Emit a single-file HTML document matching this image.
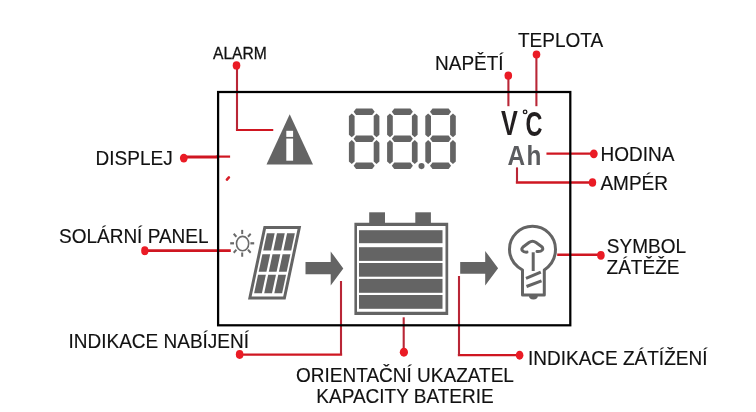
<!DOCTYPE html>
<html><head><meta charset="utf-8">
<style>
html,body{margin:0;padding:0;background:#fff;width:756px;height:412px;overflow:hidden}
svg{display:block;will-change:transform}
text{font-family:"Liberation Sans",sans-serif}
</style></head><body>
<svg width="756" height="412" viewBox="0 0 756 412">



<!-- labels -->
<g fill="#111" font-size="19" stroke="#111" stroke-width="0.15">
  <text x="213" y="59.3" font-size="17" transform="translate(213 0) scale(0.92 1) translate(-213 0)" stroke-width="0.3">ALARM</text>
  <text transform="translate(0 165.0) scale(1 1.02) translate(0 -165.0)" x="95.6" y="165.0">DISPLEJ</text>
  <text transform="translate(0 70.3) scale(1 1.02) translate(0 -70.3)" x="435" y="70.3">NAPĚTÍ</text>
  <text transform="translate(0 46.6) scale(1 1.02) translate(0 -46.6)" x="518" y="46.6">TEPLOTA</text>
  <text transform="translate(0 160.6) scale(1 1.02) translate(0 -160.6)" x="600.6" y="160.6">HODINA</text>
  <text transform="translate(0 190.4) scale(1 1.02) translate(0 -190.4)" x="600.4" y="190.4">AMPÉR</text>
  <text transform="translate(0 242.7) scale(1 1.02) translate(0 -242.7)" x="59" y="242.7">SOLÁRNÍ PANEL</text>
  <text transform="translate(0 252.8) scale(1 1.02) translate(0 -252.8)" x="606.8" y="252.8">SYMBOL</text>
  <text transform="translate(0 274.1) scale(1 1.02) translate(0 -274.1)" x="606.6" y="274.1">ZÁTĚŽE</text>
  <text transform="translate(0 348.0) scale(1 1.02) translate(0 -348.0)" x="68.5" y="348.0">INDIKACE NABÍJENÍ</text>
  <text transform="translate(0 382.4) scale(1 1.02) translate(0 -382.4)" x="405" y="382.4" text-anchor="middle">ORIENTAČNÍ UKAZATEL</text>
  <text transform="translate(0 403.1) scale(1 1.02) translate(0 -403.1)" x="405" y="403.1" text-anchor="middle">KAPACITY BATERIE</text>
  <text transform="translate(0 365.0) scale(1 1.02) translate(0 -365.0)" x="528" y="365.0">INDIKACE ZÁTÍŽENÍ</text>
</g>

<!-- red connectors -->
<g stroke="#cf1621" stroke-width="2.3" fill="none" stroke-linecap="square">
  <line x1="237" y1="130" x2="272.2" y2="130" stroke-width="2.1"/>
  <line x1="184" y1="157" x2="217" y2="157" stroke-width="3.2"/>
  <line x1="217" y1="156.6" x2="229" y2="156.6" stroke-width="2.2"/>
  <line x1="547.6" y1="153.6" x2="594" y2="153.6"/>
  <line x1="517" y1="182.5" x2="593" y2="182.5"/>
  <line x1="145" y1="250.6" x2="229.5" y2="250.6" stroke-width="2.6"/>
  <line x1="558.5" y1="254.8" x2="600.6" y2="254.8" stroke-width="2.6"/>
  <line x1="239.5" y1="354.6" x2="341" y2="354.6"/>
  <line x1="518.6" y1="355.1" x2="459" y2="355.1"/>
</g>
<g stroke="#b92636" stroke-width="2.1" fill="none">
  <line x1="237" y1="66" x2="237" y2="130"/>
  <line x1="508.4" y1="76" x2="508.4" y2="106.2"/>
  <line x1="536.4" y1="55" x2="536.4" y2="106.2"/>
  <line x1="517" y1="167.4" x2="517" y2="182.5"/>
  <line x1="341" y1="354.6" x2="341" y2="281"/>
  <line x1="403.7" y1="317.3" x2="403.7" y2="351.6"/>
  <line x1="459" y1="355.1" x2="459" y2="276"/>
</g>
<line x1="226.9" y1="179.6" x2="228.9" y2="177.4" stroke="#d8202a" stroke-width="2.6" stroke-linecap="round"/>
<g fill="#ea1b25">
  <ellipse cx="236.5" cy="65.4" rx="3.8" ry="4.2"/>
  <ellipse cx="183.8" cy="158.1" rx="3.9" ry="4.4"/>
  <ellipse cx="508.3" cy="75.7" rx="3.8" ry="4.1"/>
  <ellipse cx="536.5" cy="54.5" rx="3.8" ry="4"/>
  <ellipse cx="593.8" cy="153.8" rx="3.9" ry="4.4"/>
  <ellipse cx="592.5" cy="182.5" rx="3.7" ry="4.35"/>
  <ellipse cx="144.8" cy="250.7" rx="3.65" ry="4.45"/>
  <ellipse cx="600.9" cy="255.3" rx="3.8" ry="4.4"/>
  <ellipse cx="239.65" cy="354.5" rx="3.8" ry="4.4"/>
  <ellipse cx="403.9" cy="352.2" rx="4.1" ry="4.45"/>
  <ellipse cx="519.6" cy="355.2" rx="3.8" ry="4.45"/>
</g>

<!-- frame -->
<rect x="218.1" y="92" width="352.2" height="233.3" fill="none" stroke="#000" stroke-width="2.25"/>

<!-- alarm triangle -->
<polygon points="289.7,114.3 313,164.5 266.5,164.5" fill="#646464"/>
<rect x="286.3" y="130.8" width="6.8" height="6.1" fill="#fff"/>
<rect x="286.3" y="138.6" width="6.8" height="22.1" fill="#fff"/>

<!-- 7 seg -->
<g fill="#646464">
  <polygon points="353.6,111.8 356.1,108.6 372.2,108.6 374.7,111.8 372.2,115 356.1,115"/>
  <polygon points="351.75,113.4 354.6,116 354.6,134.7 351.75,137.3 348.9,134.7 348.9,116"/>
  <polygon points="376.55,113.4 379.4,116 379.4,134.7 376.55,137.3 373.7,134.7 373.7,116"/>
  <polygon points="353.6,138.75 356.1,135.55 372.2,135.55 374.7,138.75 372.2,141.95 356.1,141.95"/>
  <polygon points="351.75,140.1 354.6,142.7 354.6,161.4 351.75,164 348.9,161.4 348.9,142.7"/>
  <polygon points="376.55,140.1 379.4,142.7 379.4,161.4 376.55,164 373.7,161.4 373.7,142.7"/>
  <polygon points="353.6,165.8 356.1,162.6 372.2,162.6 374.7,165.8 372.2,169 356.1,169"/>
  <polygon points="391.8,111.8 394.3,108.6 410.4,108.6 412.9,111.8 410.4,115 394.3,115"/>
  <polygon points="389.95,113.4 392.8,116 392.8,134.7 389.95,137.3 387.1,134.7 387.1,116"/>
  <polygon points="414.75,113.4 417.6,116 417.6,134.7 414.75,137.3 411.9,134.7 411.9,116"/>
  <polygon points="391.8,138.75 394.3,135.55 410.4,135.55 412.9,138.75 410.4,141.95 394.3,141.95"/>
  <polygon points="389.95,140.1 392.8,142.7 392.8,161.4 389.95,164 387.1,161.4 387.1,142.7"/>
  <polygon points="414.75,140.1 417.6,142.7 417.6,161.4 414.75,164 411.9,161.4 411.9,142.7"/>
  <polygon points="391.8,165.8 394.3,162.6 410.4,162.6 412.9,165.8 410.4,169 394.3,169"/>
  <polygon points="430,111.8 432.5,108.6 448.6,108.6 451.1,111.8 448.6,115 432.5,115"/>
  <polygon points="428.15,113.4 431,116 431,134.7 428.15,137.3 425.3,134.7 425.3,116"/>
  <polygon points="452.95,113.4 455.8,116 455.8,134.7 452.95,137.3 450.1,134.7 450.1,116"/>
  <polygon points="430,138.75 432.5,135.55 448.6,135.55 451.1,138.75 448.6,141.95 432.5,141.95"/>
  <polygon points="428.15,140.1 431,142.7 431,161.4 428.15,164 425.3,161.4 425.3,142.7"/>
  <polygon points="452.95,140.1 455.8,142.7 455.8,161.4 452.95,164 450.1,161.4 450.1,142.7"/>
  <polygon points="430,165.8 432.5,162.6 448.6,162.6 451.1,165.8 448.6,169 432.5,169"/>
</g>
<circle cx="421.5" cy="166.1" r="3.05" fill="#646464"/>

<!-- V C -->
<g fill="#231f20" font-weight="bold">
  <text x="501" y="134.9" font-size="35" transform="translate(501 0) scale(0.72 1) translate(-501 0)">V</text>
  <text x="525.5" y="136" font-size="35.5" transform="translate(525.5 0) scale(0.66 1) translate(-525.5 0)">C</text>
</g>
<circle cx="525.1" cy="111.9" r="1.75" fill="none" stroke="#231f20" stroke-width="1.35"/>
<g fill="#5b5c5f" font-weight="bold">
  <text x="507.6" y="165" font-size="28" transform="translate(507.6 0) scale(0.87 1) translate(-507.6 0)">A</text>
  <text x="526.4" y="165" font-size="28" transform="translate(526.4 0) scale(0.87 1) translate(-526.4 0)">h</text>
</g>

<!-- sun -->
<g stroke="#6a6a6a" stroke-width="2" fill="none" stroke-linecap="butt" transform="translate(242.2 243.3) scale(1 1.12) translate(-242.2 -243.3)">
  
  <line x1="250.40" y1="243.30" x2="254.20" y2="243.30"/>
  <line x1="248.00" y1="249.10" x2="250.69" y2="251.79"/>
  <line x1="242.20" y1="251.50" x2="242.20" y2="255.30"/>
  <line x1="236.40" y1="249.10" x2="233.71" y2="251.79"/>
  <line x1="234.00" y1="243.30" x2="230.20" y2="243.30"/>
  <line x1="236.40" y1="237.50" x2="233.71" y2="234.81"/>
  <line x1="242.20" y1="235.10" x2="242.20" y2="231.30"/>
  <line x1="248.00" y1="237.50" x2="250.69" y2="234.81"/>
</g>

<ellipse cx="242.6" cy="243.6" rx="6.1" ry="7.2" fill="none" stroke="#6a6a6a" stroke-width="1.6"/>

<!-- solar panel -->
<g transform="translate(248 299.4) skewX(-12) translate(-248 -299.4)" fill="#646464">
  <path d="M248,226.1 h37.6 v73.3 h-37.6 z M251,229 v67.5 h31.6 v-67.5 z" fill-rule="evenodd"/>
  <rect x="252.8" y="233.2" width="7.8" height="17.2"/>
  <rect x="262.9" y="233.2" width="7.8" height="17.2"/>
  <rect x="273" y="233.2" width="7.8" height="17.2"/>
  <rect x="252.8" y="254.3" width="7.8" height="17.5"/>
  <rect x="262.9" y="254.3" width="7.8" height="17.5"/>
  <rect x="273" y="254.3" width="7.8" height="17.5"/>
  <rect x="252.8" y="274.7" width="7.8" height="18.5"/>
  <rect x="262.9" y="274.7" width="7.8" height="18.5"/>
  <rect x="273" y="274.7" width="7.8" height="18.5"/>
</g>

<!-- arrows -->
<polygon points="305.5,262.1 330.7,262.1 330.7,251.4 343.3,268.4 330.7,285.4 330.7,274.2 305.5,274.2" fill="#646464"/>
<polygon points="460.2,262.1 485.2,262.1 485.2,250.9 498.1,268.2 485.2,285.4 485.2,273.8 460.2,273.8" fill="#646464"/>

<!-- battery -->
<g fill="#646464">
  <rect x="369.2" y="212.3" width="15.8" height="11"/>
  <rect x="415.3" y="212.3" width="15.6" height="11"/>
  <path d="M354.4,222.8 h93.8 v92.2 h-93.8 z M357,225.9 v85.8 h88.5 v-85.8 z" fill-rule="evenodd"/>
  <rect x="359" y="230.2" width="83.5" height="13"/>
  <rect x="359" y="247.2" width="83.5" height="13.7"/>
  <rect x="359" y="263" width="83.5" height="13.7"/>
  <rect x="359" y="278.9" width="83.5" height="13.9"/>
  <rect x="359" y="295" width="83.5" height="13.8"/>
</g>

<!-- bulb -->
<g stroke="#646464" stroke-width="3" fill="none" stroke-linecap="round" stroke-linejoin="round">
  <path d="M522.5,293.5 V270 C512,264 509.5,257 509.5,249.2 A23,23 0 1 1 555.5,249.2 C555.5,257 553,264 544.3,270 V295.1 H522.5 Z"/>
  <line x1="533.2" y1="252.3" x2="533.2" y2="271" stroke-linecap="butt"/>
  <path d="M527,252.1 C522.5,252.4 520.5,249.5 523,247 L529,242.5 C531,241.1 534,241.1 536,242.5 L541.5,246.5 C544.5,249 542,252 537,251.5"/>
  <line x1="526" y1="278.3" x2="540.8" y2="272.2" stroke-linecap="butt"/>
  <line x1="526.5" y1="286.5" x2="541.5" y2="280.8" stroke-linecap="butt"/>
</g>
<path d="M529,296 A4.4,3.5 0 0 0 537.8,296 Z" fill="#646464"/>

</svg>
</body></html>
